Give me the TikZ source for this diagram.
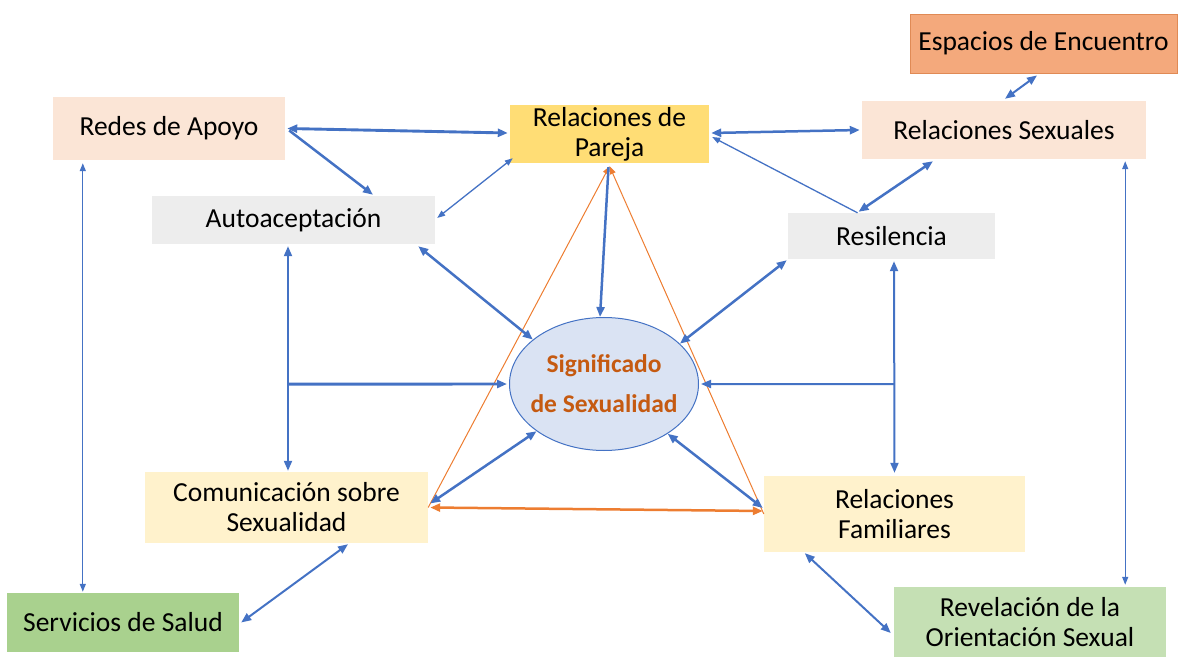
\documentclass[tikz,border=0pt]{standalone}
\usepackage{fontspec}
\setmainfont{Carlito}
\usetikzlibrary{arrows.meta,shapes.geometric,calc}
\definecolor{peach}{HTML}{FBE5D6}
\definecolor{lgray}{HTML}{EDEDED}
\definecolor{gold}{HTML}{FFDD75}
\definecolor{orbox}{HTML}{F4A97C}
\definecolor{orboxline}{HTML}{E08A55}
\definecolor{cream}{HTML}{FFF2CC}
\definecolor{greenA}{HTML}{A9D18E}
\definecolor{greenB}{HTML}{C5E0B4}
\definecolor{ellfill}{HTML}{DAE3F3}
\definecolor{blueln}{HTML}{4472C4}
\definecolor{orln}{HTML}{ED7D31}
\definecolor{txtor}{HTML}{C55A11}
\tikzset{
 nbox/.style={rectangle,inner sep=0pt,align=center,font=\fontsize{27.5}{30}\selectfont},
 ab/.style={{Triangle[length=10pt,width=8pt]}-{Triangle[length=10pt,width=8pt]}},
 ae/.style={-{Triangle[length=10pt,width=8pt]}},
 abs/.style={{Triangle[length=8pt,width=6pt]}-{Triangle[length=8pt,width=6pt]}},
 aes/.style={-{Triangle[length=8pt,width=6pt]}},
 bl/.style={draw=blueln,line width=2.5pt},
 blm/.style={draw=blueln,line width=2pt},
 bls/.style={draw=blueln,line width=1.3pt},
}
\begin{document}
\begin{tikzpicture}[x=1pt,y=-1pt]
\path[use as bounding box] (0,0) rectangle (1181,660);
% nodes
\node[nbox,fill=peach,minimum width=232pt,minimum height=63pt] (redes) at (169,128.5) {Redes de Apoyo};
\node[nbox,fill=lgray,minimum width=283pt,minimum height=48pt] (auto) at (293.5,220) {Autoaceptación};
\node[nbox,fill=gold,minimum width=199pt,minimum height=58pt] (pareja) at (609.5,134) {Relaciones de\\Pareja};
\node[nbox,fill=orbox,draw=orboxline,line width=0.8pt,minimum width=267pt,minimum height=59pt] (espacios) at (1043.5,43.5) {Espacios de Encuentro};
\node[nbox,fill=peach,minimum width=284pt,minimum height=58pt] (sexuales) at (1004,130) {Relaciones Sexuales};
\node[nbox,fill=lgray,minimum width=207pt,minimum height=46pt] (resil) at (891.5,236) {Resilencia};
\node[ellipse,draw=blueln,line width=1pt,fill=ellfill,minimum width=189pt,minimum height=133pt,inner sep=0pt] (sig) at (604,384) {};
\node[inner sep=0pt,align=center,font=\bfseries\fontsize{25.5}{40}\selectfont,text=txtor] (sigtext) at (sig.center) {Significado\\de Sexualidad};
\node[nbox,fill=cream,minimum width=283pt,minimum height=71pt] (comun) at (286.5,507.5) {Comunicación sobre\\Sexualidad};
\node[nbox,fill=cream,minimum width=261pt,minimum height=76pt] (famil) at (894.5,514) {Relaciones\\Familiares};
\node[nbox,fill=greenA,minimum width=232pt,minimum height=59pt] (salud) at (123,622.5) {Servicios de Salud};
\node[nbox,fill=greenB,minimum width=272pt,minimum height=70pt] (revel) at (1030,622) {Revelación de la\\Orientación Sexual};
% junction coordinates
\coordinate (lj) at ($(auto.south)+(-5.5,140)$);
\coordinate (rj) at ($(resil.south)+(2.5,125)$);
% orange triangle
\draw[draw=orln,line width=1pt,aes] (comun.east) -- ([yshift=-3pt]pareja.south);
\draw[draw=orln,line width=1pt,aes] (famil.west) -- ([yshift=-3pt]pareja.south);
\draw[draw=orln,line width=2.5pt,ab] ([xshift=2pt]comun.east) -- ([xshift=-1pt,yshift=3pt]famil.west);
% blue connectors
\draw[bl,line width=2.9pt,ab] ([xshift=2pt]redes.east) -- ([xshift=-2pt,yshift=1pt]pareja.west);
\draw[bl,ae] ([xshift=4pt,yshift=-2pt]redes.east) -- ([xshift=79.5pt,yshift=1pt]auto.north);
\draw[bls,abs] ([xshift=2pt,yshift=2pt]auto.east) -- ([xshift=3pt,yshift=5pt]pareja.south west);
\draw[bl,ab] ([xshift=-17pt,yshift=-2pt]auto.south east) -- (sig.148);
\draw[bl,ae] ([xshift=-1pt,yshift=-4pt]pareja.south) -- ([xshift=-4pt]sig.north);
\draw[bl,ab] ([xshift=2pt,yshift=1pt]pareja.east) -- ([xshift=-2pt]sexuales.west);
\draw[bls,aes] ([xshift=-34pt]resil.north) -- ([xshift=3pt,yshift=-3pt]pareja.east);
\draw[bl,ab] ([xshift=-71pt,yshift=-2pt]sexuales.south) -- ([xshift=-33pt,yshift=1pt]resil.north);
\draw[blm,ab] ([xshift=-6.5pt,yshift=-2pt]espacios.south) -- ([xshift=1pt,yshift=2pt]sexuales.north);
\draw[bl,ab] ([xshift=-1pt,yshift=-1pt]resil.south west) -- (sig.28);
\draw[bls,abs] ([xshift=-21pt,yshift=-2pt]sexuales.south east) -- ([xshift=-41pt,yshift=2pt]revel.north east);
\draw[bls,abs] ([xshift=30pt,yshift=-3pt]redes.south west) -- ([xshift=76pt,yshift=1pt]salud.north west);
\draw[blm,ab] ([xshift=-5.5pt,yshift=-2pt]auto.south) -- ([xshift=1.5pt,yshift=1pt]comun.north);
\draw[bl,line width=2.9pt,ae] (lj) -- ([xshift=-2pt]sig.west);
\draw[blm,ab] ([xshift=2.5pt,yshift=-2pt]resil.south) -- ([yshift=3pt]famil.north);
\draw[blm,ae] (rj) -- ([xshift=2pt]sig.east);
\draw[bl,ab] ([xshift=2pt,yshift=4pt]comun.east) -- (sig.215);
\draw[bl,ab] ([xshift=-1pt,yshift=6pt]famil.west) -- (sig.322);
\draw[blm,ab] ([xshift=61.5pt,yshift=-1pt]comun.south) -- ([xshift=2pt]salud.east);
\draw[blm,ab] ([xshift=41pt,yshift=-1pt]famil.south west) -- ([xshift=-3pt,yshift=-11pt]revel.west);
\end{tikzpicture}
\end{document}
